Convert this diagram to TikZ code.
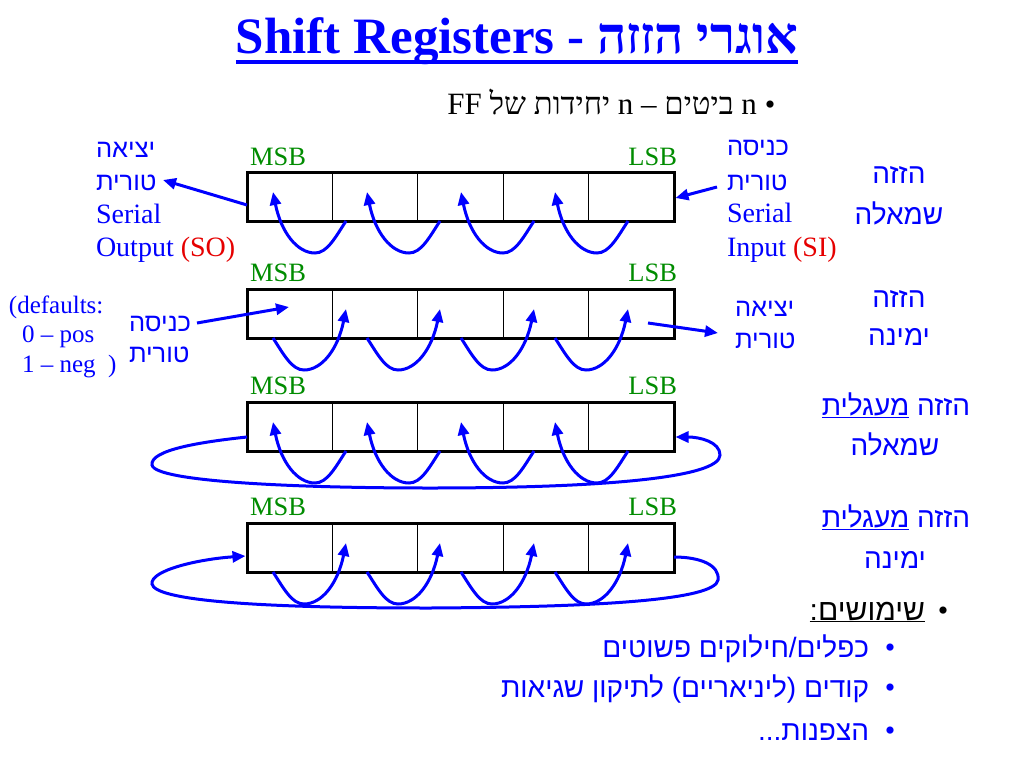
\documentclass[tikz,border=0pt]{standalone}
\usepackage{fontspec}
\setmainfont{Liberation Serif}
\newfontfamily\hebserif[Script=Hebrew]{Liberation Serif}
\newfontfamily\hebsans[Script=Hebrew]{Liberation Sans}
\TeXXeTstate=1
\usetikzlibrary{arrows.meta,calc}
\definecolor{pblue}{RGB}{0,0,255}
\definecolor{pgreen}{RGB}{0,140,0}
\definecolor{pred}{RGB}{230,0,0}
\newcommand\RL[1]{\beginR#1\endR}
\tikzset{
  txt/.style={inner sep=0pt, outer sep=0pt},
  lbl/.style={txt, text=pblue, font=\fontsize{28}{28}\selectfont},
  heb/.style={txt, text=pblue, font=\fontsize{25.5}{26}\selectfont\hebsans},
  hebbig/.style={txt, text=pblue, font=\fontsize{28}{28}\selectfont\hebsans, anchor=base},
  bitlbl/.style={txt, text=pgreen, font=\fontsize{26.5}{27}\selectfont},
  reg/.style={draw, line width=3pt, minimum width=427pt, minimum height=49pt, inner sep=0pt, outer sep=0pt, anchor=north west},
  divline/.style={line width=1.3pt},
  sarrow/.style={pblue, line width=3pt, -{Triangle[length=13pt,width=11pt]}},
  loopline/.style={pblue, line width=3pt},
  bul/.style={txt, font=\fontsize{30}{30}\selectfont, anchor=base},
  usetxt/.style={txt, text=pblue, font=\fontsize{28}{28}\selectfont\hebsans, anchor=base east},
}
\newcommand\celldivs[1]{%
  \foreach \k in {1,...,4}{\draw[divline] ($(#1.north west)+(85.4*\k,0)$) -- ($(#1.south west)+(85.4*\k,0)$);}}
\newcommand\shiftleftarrows[1]{%
  \begin{scope}[shift={(#1.north west)}]
  \foreach \i [evaluate=\i as \o using 94*\i] in {0,...,3}{%
    \draw[sarrow] (99+\o,49) .. controls (88+\o,66) and (80+\o,81) .. (68+\o,81)
       .. controls (50+\o,81) and (34+\o,60) .. (26+\o,20);}
  \end{scope}}
\newcommand\shiftrightarrows[1]{%
  \begin{scope}[shift={(#1.north west)}]
  \foreach \i [evaluate=\i as \o using 94*\i] in {0,...,3}{%
    \draw[sarrow] (26+\o,49) .. controls (37+\o,66) and (45+\o,81) .. (57+\o,81)
       .. controls (75+\o,81) and (91+\o,60) .. (99+\o,20);}
  \end{scope}}
\begin{document}
\begin{tikzpicture}[x=1pt,y=-1pt]
\useasboundingbox[fill=white] (0,0) rectangle (1024,768);

% title
\node[txt, text=pblue, font=\fontsize{51}{51}\selectfont\bfseries, anchor=base] (title) at (517,54)
  {Shift Registers - {\hebserif\RL{אוגרי הזזה}}};
\draw[pblue, line width=3.5pt] ([yshift=-8pt]title.base west) -- ([yshift=-8pt]title.base east);

% first bullet
\node[txt, font=\fontsize{31}{31}\selectfont\hebserif, anchor=base east] (b0) at (757,114)
  {\RL{n ביטים – n יחידות של FF}};
\node[bul] (b0d) at (770,114) {•};

% registers
\node[reg] (r1) at (247,172) {};
\node[reg] (r2) at (247,289) {};
\node[reg] (r3) at (247,402) {};
\node[reg] (r4) at (247,523) {};
\celldivs{r1}\celldivs{r2}\celldivs{r3}\celldivs{r4}

% MSB / LSB
\node[bitlbl, anchor=base west] (m1) at (250,165) {MSB};
\node[bitlbl, anchor=base east] (l1) at (677,165) {LSB};
\node[bitlbl, anchor=base west] (m2) at (250,281) {MSB};
\node[bitlbl, anchor=base east] (l2) at (677,281) {LSB};
\node[bitlbl, anchor=base west] (m3) at (250,394) {MSB};
\node[bitlbl, anchor=base east] (l3) at (677,394) {LSB};
\node[bitlbl, anchor=base west] (m4) at (250,515) {MSB};
\node[bitlbl, anchor=base east] (l4) at (677,515) {LSB};

% internal shift arrows
\shiftleftarrows{r1}
\shiftrightarrows{r2}
\shiftleftarrows{r3}
\shiftrightarrows{r4}

% register 1 labels
\node[heb, anchor=base west] (so1) at (96,157) {\RL{יציאה}};
\node[heb, anchor=base west] (so2) at (96,190) {\RL{טורית}};
\node[lbl, anchor=base west] (so3) at (96,223) {Serial};
\node[lbl, anchor=base west] (so4) at (96,256) {Output \textcolor{pred}{(SO)}};
\node[heb, anchor=base west] (si1) at (727,155) {\RL{כניסה}};
\node[heb, anchor=base west] (si2) at (727,190) {\RL{טורית}};
\node[lbl, anchor=base west] (si3) at (727,222) {Serial};
\node[lbl, anchor=base west] (si4) at (727,256) {Input \textcolor{pred}{(SI)}};
\coordinate (soTip) at (163,180);
\coordinate (siStart) at (717,187);
\draw[sarrow] ($(r1.north west)+(0,33)$) -- (soTip);
\draw[sarrow] (siStart) -- ($(r1.north east)+(1.5,26)$);

% register 2 labels
\node[lbl, font=\fontsize{25}{25}\selectfont, anchor=base west] (d1) at (9,313) {(defaults:};
\node[lbl, font=\fontsize{25}{25}\selectfont, anchor=base west] (d2) at (22,342) {0 – pos};
\node[lbl, font=\fontsize{25}{25}\selectfont, anchor=base west] (d3) at (22,372) {1 – neg\ \ )};
\node[heb, anchor=base west] (in1) at (129,331) {\RL{כניסה}};
\node[heb, anchor=base west] (in2) at (129,362) {\RL{טורית}};
\node[heb, anchor=base west] (out1) at (735,316) {\RL{יציאה}};
\node[heb, anchor=base west] (out2) at (735,348) {\RL{טורית}};
\coordinate (inStart) at (197,323);
\coordinate (outTip) at (718,333);
\draw[sarrow] (inStart) -- ($(r2.north west)+(42,18)$);
\draw[sarrow] ($(r2.north east)+(-26,34)$) -- (outTip);

% loops
\begin{scope}[shift={(r3.north west)}]
\draw[loopline, -{Triangle[length=13pt,width=11pt]}] (0,35) .. controls (-47,40) and (-97,48) .. (-95,63)
  .. controls (-92,80) and (53,86) .. (183,86) .. controls (353,86) and (473,76) .. (473,53)
  .. controls (473,40) and (453,35) .. (428.5,35);
\end{scope}
\begin{scope}[shift={(r4.north west)}]
\draw[loopline, -{Triangle[length=13pt,width=11pt]}] (427,34) .. controls (453,34) and (473,42) .. (471,57)
  .. controls (468,77) and (353,84) .. (183,85) .. controls (3,85) and (-92,77) .. (-95,61)
  .. controls (-97,47) and (-47,36) .. (-1.5,33);
\end{scope}

% right side titles
\node[hebbig] (t1a) at (899,183) {\RL{הזזה}};
\node[hebbig] (t1b) at (899,224) {\RL{שמאלה}};
\node[hebbig] (t2a) at (899,307) {\RL{הזזה}};
\node[hebbig] (t2b) at (899,345) {\RL{ימינה}};
\node[hebbig] (t3a) at (896,415) {\RL{הזזה \underline{מעגלית}}};
\node[hebbig] (t3b) at (895,455) {\RL{שמאלה}};
\node[hebbig] (t4a) at (896,527) {\RL{הזזה \underline{מעגלית}}};
\node[hebbig] (t4b) at (895,568) {\RL{ימינה}};

% uses
\node[bul] (u0d) at (943,620) {•};
\node[usetxt, text=black, font=\fontsize{30}{30}\selectfont\hebsans] (u0) at (925,620) {\RL{\underline{שימושים:}}};
\node[bul, text=pblue] (u1d) at (890,657) {•};
\node[usetxt] (u1) at (869,657) {\RL{כפלים/חילוקים פשוטים}};
\node[bul, text=pblue] (u2d) at (890,697) {•};
\node[usetxt] (u2) at (869,697) {\RL{קודים (ליניאריים) לתיקון שגיאות}};
\node[bul, text=pblue] (u3d) at (890,740) {•};
\node[usetxt] (u3) at (869,740) {\RL{הצפנות...}};
\end{tikzpicture}
\end{document}
